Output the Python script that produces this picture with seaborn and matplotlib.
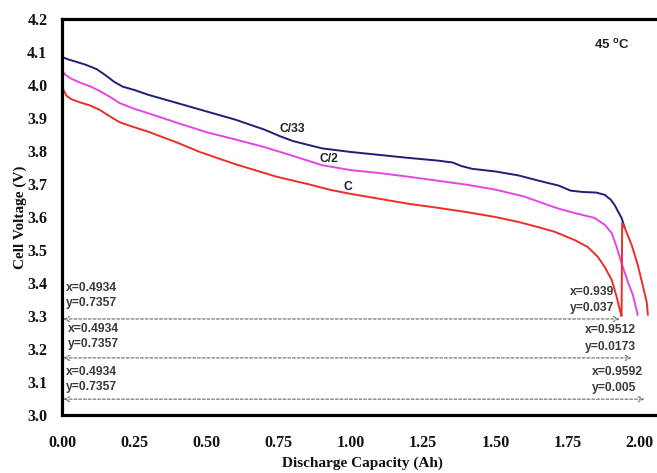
import numpy as np
import pandas as pd
import matplotlib
matplotlib.use("Agg")
import matplotlib.pyplot as plt
import seaborn as sns

# Discharge curves at 45 °C: capacity (Ah) and cell voltage (V)
cap_c33 = [0.000, 0.020, 0.050, 0.080, 0.100, 0.120, 0.150, 0.180, 0.210, 0.250, 0.300,
           0.400, 0.500, 0.600, 0.700, 0.754, 0.800, 0.900, 1.000, 1.100, 1.200, 1.300,
           1.353, 1.380, 1.420, 1.500, 1.580, 1.650, 1.720, 1.760, 1.800, 1.850, 1.879,
           1.900, 1.913, 1.937, 1.948]
v_c33 = [4.085, 4.078, 4.070, 4.062, 4.055, 4.048, 4.030, 4.010, 3.995, 3.985, 3.970,
         3.945, 3.920, 3.895, 3.865, 3.845, 3.830, 3.808, 3.797, 3.788, 3.779, 3.771,
         3.765, 3.755, 3.746, 3.738, 3.726, 3.710, 3.695, 3.680, 3.676, 3.674, 3.667,
         3.652, 3.636, 3.597, 3.567]

cap_c2 = [0.000, 0.010, 0.030, 0.060, 0.100, 0.130, 0.170, 0.200, 0.250, 0.300, 0.400,
          0.500, 0.600, 0.700, 0.800, 0.900, 1.000, 1.100, 1.200, 1.300, 1.400, 1.500,
          1.600, 1.654, 1.720, 1.775, 1.844, 1.879, 1.903, 1.920, 1.937, 1.960, 1.976,
          1.993]
v_c2 = [4.045, 4.032, 4.020, 4.008, 3.995, 3.982, 3.962, 3.945, 3.928, 3.914, 3.885,
        3.857, 3.835, 3.812, 3.785, 3.757, 3.742, 3.733, 3.722, 3.710, 3.698, 3.683,
        3.662, 3.645, 3.625, 3.612, 3.597, 3.576, 3.551, 3.509, 3.460, 3.400, 3.364,
        3.303]

cap_c1 = [0.000, 0.005, 0.015, 0.030, 0.060, 0.097, 0.130, 0.160, 0.200, 0.250, 0.300,
          0.400, 0.477, 0.600, 0.743, 0.850, 0.930, 1.000, 1.100, 1.200, 1.300, 1.400,
          1.500, 1.580, 1.654, 1.706, 1.775, 1.820, 1.855, 1.879, 1.903, 1.920, 1.931,
          1.937, 1.939, 1.948, 1.972, 1.993, 2.010, 2.024, 2.028]
v_c1 = [4.006, 3.985, 3.968, 3.958, 3.948, 3.938, 3.925, 3.908, 3.887, 3.872, 3.858,
        3.825, 3.797, 3.760, 3.722, 3.700, 3.682, 3.670, 3.655, 3.640, 3.628, 3.615,
        3.600, 3.585, 3.568, 3.555, 3.530, 3.509, 3.479, 3.448, 3.409, 3.358, 3.318,
        3.300, 3.582, 3.567, 3.515, 3.455, 3.394, 3.342, 3.303]

rates = ["C/33", "C/2", "C"]
colors = ["#1f1f78", "#e346e3", "#ea2f2a"]

# Data-cursor readouts and their dashed guides
guide_y = [3.291, 3.173, 3.048]
guide_x_end = [1.931, 1.972, 2.017]
left_tips = [("x=0.4934", "y=0.7357"), ("x=0.4934", "y=0.7357"), ("x=0.4934", "y=0.7357")]
right_tips = [("x=0.939", "y=0.037"), ("x=0.9512", "y=0.0173"), ("x=0.9592", "y=0.005")]

xticks = [0.00, 0.25, 0.50, 0.75, 1.00, 1.25, 1.50, 1.75, 2.00]
yticks = [3.0, 3.1, 3.2, 3.3, 3.4, 3.5, 3.6, 3.7, 3.8, 3.9, 4.0, 4.1, 4.2]

sns.set_theme(style="white")
plt.rcParams["font.family"] = ["Liberation Sans", "DejaVu Sans"]

frames = []
for name, xs, ys in zip(rates, [cap_c33, cap_c2, cap_c1], [v_c33, v_c2, v_c1]):
    frames.append(pd.DataFrame({"cap": xs, "volt": ys, "rate": name}))
df = pd.concat(frames, ignore_index=True)

fig = plt.figure(figsize=(6.57, 4.73), dpi=100)
ax = fig.add_axes([62 / 657, 58 / 473, 598 / 657, 396 / 473])

sns.lineplot(data=df, x="cap", y="volt", hue="rate", hue_order=rates,
             palette=colors, sort=False, estimator=None, units="rate",
             linewidth=1.4, legend=False, ax=ax)

ax.set_xlim(0, 2.07)
ax.set_ylim(3.0, 4.2)
ax.set_xticks(xticks)
ax.set_yticks(yticks)
ax.set_xticklabels([f"{t:.2f}" for t in xticks])
ax.set_yticklabels([f"{t:.1f}" for t in yticks])

serif_bold = dict(family="Liberation Serif", weight="bold")
for lab in ax.get_xticklabels() + ax.get_yticklabels():
    lab.set_fontfamily("Liberation Serif")
    lab.set_fontweight("bold")
    lab.set_fontsize(11.5)
    lab.set_color("#111111")
ax.tick_params(axis="x", direction="out", length=2.5, width=0.8, color="#bbbbbb", pad=12)
ax.tick_params(axis="y", direction="out", length=2.5, width=0.8, color="#bbbbbb", pad=8)

for side in ["left", "bottom", "top", "right"]:
    ax.spines[side].set_linewidth(2.3)
    ax.spines[side].set_color("black")

ax.set_xlabel("Discharge Capacity (Ah)", fontsize=11, color="#111111", **serif_bold)
ax.set_ylabel("Cell Voltage (V)", fontsize=11, color="#111111", **serif_bold)
ax.xaxis.set_label_coords((362 - 62) / 598, (415 - 457) / 396)
ax.yaxis.set_label_coords((27 - 62) / 598, 0.5)

# Rate labels on the curves
label_pos = [(0.796, 3.866), (0.924, 3.776), (0.99, 3.691)]
for name, (lx, ly) in zip(rates, label_pos):
    ax.text(lx, ly, name, fontsize=8.7, fontweight="bold", color="#222222",
            ha="center", va="center")

ax.text(1.905, 4.121, "45 $^{\\mathregular{o}}$C", fontsize=9.5, fontweight="bold",
        color="#222222", ha="center", va="center")

# Dashed double arrows with cursor readouts
for gy, gx in zip(guide_y, guide_x_end):
    ax.annotate("", xy=(gx, gy), xytext=(0.004, gy),
                arrowprops=dict(arrowstyle="<->", linestyle=(0, (2.2, 1.6)),
                                color="#777777", lw=0.9, shrinkA=0, shrinkB=0,
                                mutation_scale=9))

left_pos = [(0.014, 3.385, 3.339), (0.021, 3.261, 3.215), (0.014, 3.130, 3.085)]
right_pos = [(1.758, 3.373, 3.324), (1.810, 3.258, 3.206), (1.834, 3.130, 3.082)]
for tips, pos in [(left_tips, left_pos), (right_tips, right_pos)]:
    for (t1, t2), (tx, ty1, ty2) in zip(tips, pos):
        ax.text(tx, ty1, t1, fontsize=8.7, fontweight="bold", color="#3a3a3a",
                ha="left", va="center")
        ax.text(tx, ty2, t2, fontsize=8.7, fontweight="bold", color="#3a3a3a",
                ha="left", va="center")

fig.savefig("out.png", dpi=100, facecolor="white")
